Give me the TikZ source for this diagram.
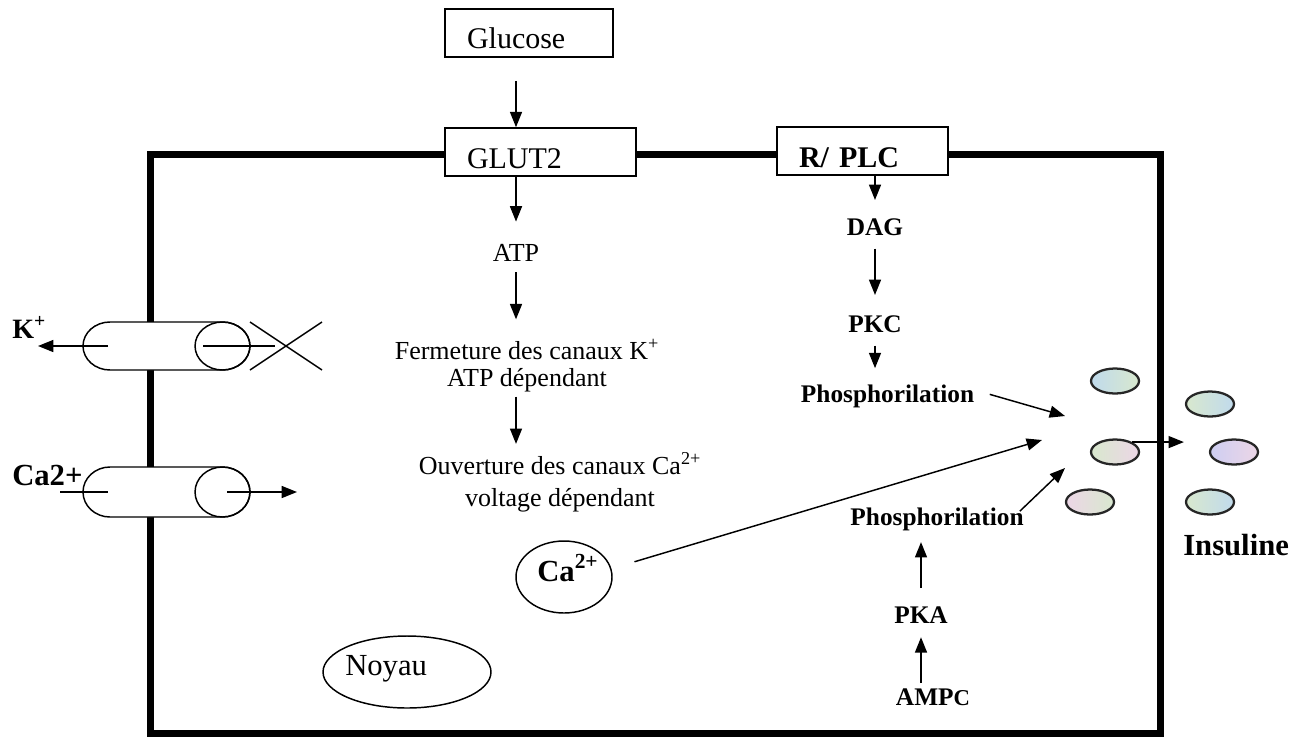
\documentclass[tikz,border=0pt]{standalone}
\usepackage{fontspec}
\setmainfont{Liberation Serif}
\usetikzlibrary{arrows.meta,shapes.geometric,calc}
\newcommand\szBox{\fontsize{22.5pt}{26pt}\selectfont}
\newcommand\szMid{\fontsize{19.5pt}{20.25pt}\selectfont}
\newcommand\szMidB{\fontsize{19.5pt}{24pt}\selectfont}
\newcommand\szRt{\fontsize{19pt}{22pt}\selectfont\bfseries}
\newcommand\szBig{\fontsize{23pt}{26pt}\selectfont}
\definecolor{va}{RGB}{192,218,236}
\definecolor{vb}{RGB}{216,232,206}
\definecolor{vc}{RGB}{236,214,230}
\definecolor{vd}{RGB}{206,206,242}
\begin{document}
\begin{tikzpicture}[x=0.75pt,y=-0.75pt,
  arr/.style={-{Triangle[length=11.5pt,width=9pt]}, line width=1.1pt},
  box/.style={draw, line width=1.2pt, fill=white, align=left, inner xsep=16.5pt, inner ysep=0pt, text depth=0pt, minimum height=36pt},
  txt/.style={inner sep=0pt, anchor=base},
  ves/.style={ellipse, draw=black!85, line width=1.7pt, minimum width=36pt, minimum height=18.75pt, inner sep=0pt},
  chan/.style={line width=1.1pt, fill=white},
  thin/.style={line width=1.1pt},
]
\useasboundingbox (0,0) rectangle (1305,736);
\fill[white] (0,0) rectangle (1305,736);
% cell membrane
\draw[line width=5.25pt] (150,154) rectangle (1160,733);

% boxes
\node[box, minimum width=126pt, text width=93pt, text height=22.5pt, font=\szBox] (glucose) at (529,33) {Glucose};
\node[box, minimum width=143.25pt, text width=110.25pt, text height=24pt, font=\szBox] (glut2) at (540.5,152) {GLUT2};
\node[box, minimum width=128.25pt, text width=95.25pt, text height=24pt, font=\szBox\bfseries] (rplc) at (862.5,151) {R/ PLC};

% middle column
\node[txt, font=\szMid] (atp) at (516,261) {ATP};
\node[font=\szMid, align=center, inner sep=0pt] (ferm) at (527,366) {Fermeture des canaux K\textsuperscript{+}\\ATP dépendant};
\node[font=\szMidB, align=center, inner sep=0pt] (ouv) at (560,482) {Ouverture des canaux Ca\textsuperscript{2+}\\voltage dépendant};

\draw[arr, shorten <=17.25pt] (glucose.south -| atp) -- (glut2.north -| atp);
\draw[arr, shorten >=16.5pt] (glut2.south -| atp) -- (atp.north);
\draw[arr, shorten <=8.25pt, shorten >=15pt] (atp.south) -- (ferm.north -| atp);
\draw[arr, shorten <=3pt, shorten >=6pt] (ferm.south -| atp) -- (ouv.north -| atp);

% right column
\node[txt, font=\szRt] (dag) at (875,235) {DAG};
\node[txt, font=\szRt] (pkc) at (875,332) {PKC};
\node[txt, font=\szRt] (ph1) at (887.5,402) {Phosphorilation};
\node[txt, font=\szRt] (ph2) at (937,525) {Phosphorilation};
\node[txt, font=\szRt] (pka) at (921,623) {PKA};
\node[txt, font=\szRt] (ampc) at (933,705) {AMP{\fontsize{17pt}{17pt}\selectfont C}};

\draw[arr, shorten >=13.5pt] (rplc.south -| dag) -- (dag.north);
\draw[arr, shorten <=9.75pt, shorten >=15pt] (dag.south) -- (pkc.north);
\draw[arr, shorten <=9.75pt, shorten >=12pt] (pkc.south) -- (pkc.south |- ph1.north);
\draw[arr, shorten <=13.5pt, shorten >=8.6pt] (pka.north) -- (pka.north |- ph2.south);
\draw[arr, shorten <=3.75pt, shorten >=10.5pt] (ampc.north -| pka) -- (pka.south);

% Ca2+ and nucleus
\node[ellipse, draw, thin, minimum width=72pt, minimum height=54pt, inner sep=0pt] (ca) at (564,577) {};
\node[txt, anchor=base west, font=\szBig\bfseries] (cat) at (537,581) {Ca\textsuperscript{2+}};
\node[ellipse, draw, thin, minimum width=126pt, minimum height=54pt, inner sep=0pt] (noy) at (407,672) {};
\node[txt, anchor=base west, font=\szBig] (noyt) at (345,675) {Noyau};

% vesicles
\node[ves, left color=va, right color=vb] (v1) at (1115,381) {};
\node[ves, left color=vb, right color=vc] (v2) at (1115,452) {};
\node[ves, left color=vc, right color=vb] (v3) at (1090,502) {};
\node[ves, left color=vb, right color=va] (o1) at (1210,404) {};
\node[ves, left color=vd, right color=vc] (o2) at (1234,452) {};
\node[ves, left color=vb, right color=va] (o3) at (1210,502) {};
\node[txt, anchor=base west, font=\szBig\bfseries] (ins) at (1183,555) {Insuline};

% arrows to vesicles
\coordinate (hit1) at (1065,416);
\coordinate (hit2) at (1065,468);
\coordinate (hit3) at (1042,440);
\draw[arr, shorten <=12pt] ($(ph1.east)+(0,-6)$) -- (hit1);
\draw[arr] ($(ph2.north east)+(-4,4)$) -- (hit2);
\draw[arr, shorten <=18pt] (ca.10) -- (hit3);
\draw[arr, shorten >=18.75pt] (v2.30) -- (v2.30 -| o2.west);

% K+ channel
\draw[chan] (110,322) -- (222.5,322) arc[start angle=90, end angle=-90, x radius=20.6pt, y radius=18pt] -- (110,370) arc[start angle=270, end angle=90, x radius=20.25pt, y radius=18pt] -- cycle;
\draw[thin] (222.5,346) ellipse[x radius=20.6pt, y radius=18pt];
\coordinate (kin) at (108,346);
\coordinate (kout) at (38,346);
\coordinate (kl) at (85,346);
\coordinate (kr1) at (203,346);
\coordinate (kr2) at (275,346);
\draw[thin] (kl) -- (kin);
\draw[arr] (kin) -- (kout);
\draw[thin] (kr1) -- (kr2);
\draw[thin] (250,322) -- (322,370) (250,370) -- (322,322);
\node[txt, anchor=base west, font=\fontsize{21pt}{24pt}\selectfont\bfseries] (klab) at (12,338) {K\textsuperscript{+}};

% Ca2+ channel
\draw[chan] (110,467) -- (222.5,467) arc[start angle=90, end angle=-90, x radius=20.6pt, y radius=18.75pt] -- (110,517) arc[start angle=270, end angle=90, x radius=20.25pt, y radius=18.75pt] -- cycle;
\draw[thin] (222.5,492) ellipse[x radius=20.6pt, y radius=18.75pt];
\coordinate (cl) at (60,492);
\coordinate (cin) at (108,492);
\coordinate (cs) at (227,492);
\coordinate (ce) at (297,492);
\draw[thin] (cl) -- (cin);
\draw[arr] (cs) -- (ce);
\node[txt, anchor=base west, font=\szBig\bfseries] (calab) at (12,485) {Ca2+};
\end{tikzpicture}
\end{document}
